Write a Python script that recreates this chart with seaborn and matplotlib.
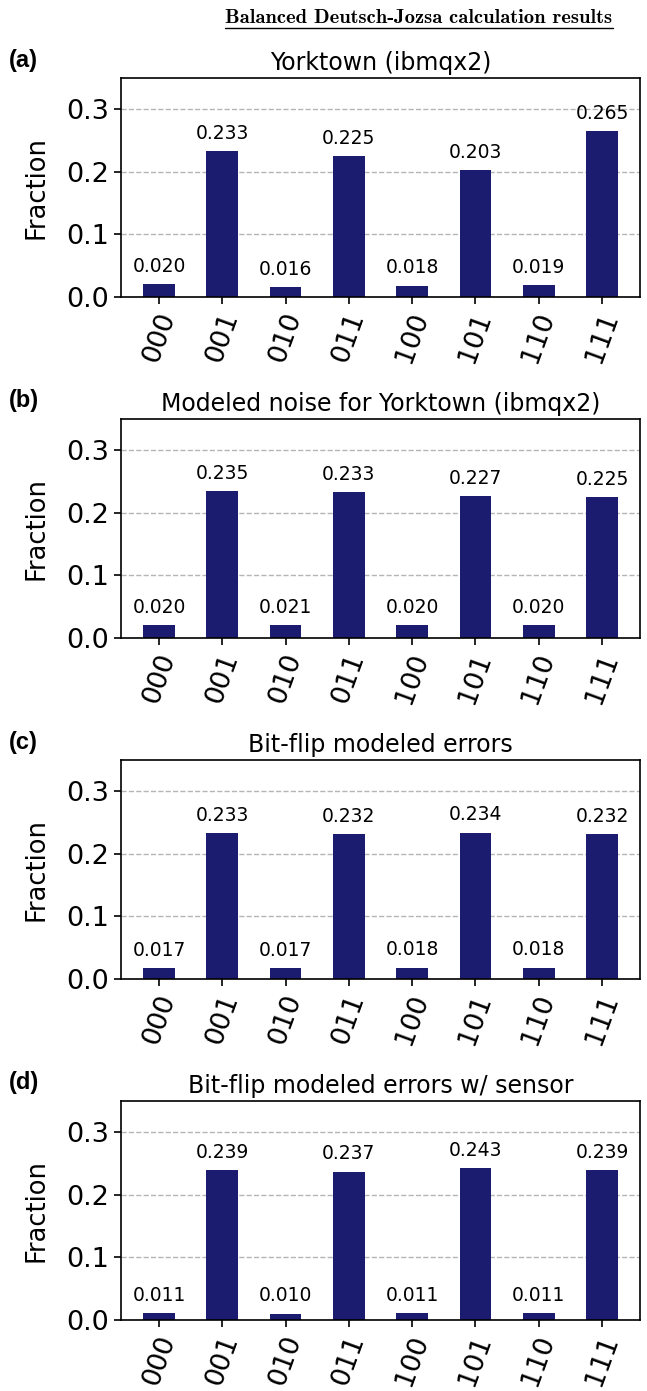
import matplotlib
matplotlib.use("Agg")
import matplotlib.pyplot as plt
import seaborn as sns
from matplotlib.lines import Line2D

#-----Data-----#
states = ["000", "001", "010", "011", "100", "101", "110", "111"]
yorktown = [0.020, 0.233, 0.016, 0.225, 0.018, 0.203, 0.019, 0.265]
modeled_noise = [0.020, 0.235, 0.021, 0.233, 0.020, 0.227, 0.020, 0.225]
bitflip = [0.017, 0.233, 0.017, 0.232, 0.018, 0.234, 0.018, 0.232]
bitflip_sensor = [0.011, 0.239, 0.010, 0.237, 0.011, 0.243, 0.011, 0.239]

panel_titles = ["Yorktown (ibmqx2)",
                "Modeled noise for Yorktown (ibmqx2)",
                "Bit-flip modeled errors",
                "Bit-flip modeled errors w/ sensor"]
panel_tags = ["(a)", "(b)", "(c)", "(d)"]
series = [yorktown, modeled_noise, bitflip, bitflip_sensor]

#-----Figure-----#
sns.set_style("ticks")
plt.rcParams['font.family'] = ['DejaVu Sans']
plt.rcParams.update({"text.color": "black", "axes.labelcolor": "black",
                     "xtick.color": "black", "ytick.color": "black"})

W, H = 647, 1391
fig = plt.figure(figsize=(W / 100, H / 100), dpi=100)

ax_left, ax_right = 121, 640
ax_h = 219
step = 341

for i, (vals, title, tag) in enumerate(zip(series, panel_titles, panel_tags)):
    bottom_px = 297 + step * i
    ax = fig.add_axes([ax_left / W, 1 - bottom_px / H,
                       (ax_right - ax_left) / W, ax_h / H])
    sns.barplot(x=states, y=vals, color="#1b1b6f", saturation=1,
                width=0.5, linewidth=0, edgecolor="none", ax=ax)
    ax.bar_label(ax.containers[0], fmt="%.3f", padding=6, fontsize=13.5,
                 color="black")
    ax.set_xlim(-0.6, 7.6)
    ax.set_ylim(0, 0.35)
    ax.set_yticks([0.0, 0.1, 0.2, 0.3])
    ax.set_yticklabels(["0.0", "0.1", "0.2", "0.3"])
    ax.yaxis.grid(True, linestyle="--", color="#b5b5b5", linewidth=1)
    ax.set_axisbelow(True)
    ax.tick_params(axis="both", labelsize=19.5, length=5, width=1.2,
                   colors="black")
    ax.tick_params(axis="x", labelrotation=70)
    for s in ax.spines.values():
        s.set_linewidth(1.2)
        s.set_color("black")
    ax.set_ylabel("Fraction", fontsize=18.5, labelpad=12, color="black")
    ax.set_xlabel("")
    ax.set_title(title, fontsize=17, pad=6, color="black")
    fig.text(9 / W, 1 - (bottom_px - ax_h - 18) / H, tag,
             fontsize=17, fontweight="bold", family="Liberation Sans",
             ha="left", va="center", color="black")

# main title, underlined
t = fig.text(419 / W, 1 - 18 / H, "Balanced Deutsch-Jozsa calculation results",
             fontsize=14.8, family="cmb10", ha="center", va="center",
             color="black")
fig.canvas.draw()
bb = t.get_window_extent()
y_line = bb.y0 - 1
fig.add_artist(Line2D([bb.x0 / W, bb.x1 / W], [y_line / H, y_line / H],
                      color="black", linewidth=1, transform=fig.transFigure))

fig.savefig("out.png", dpi=100)
